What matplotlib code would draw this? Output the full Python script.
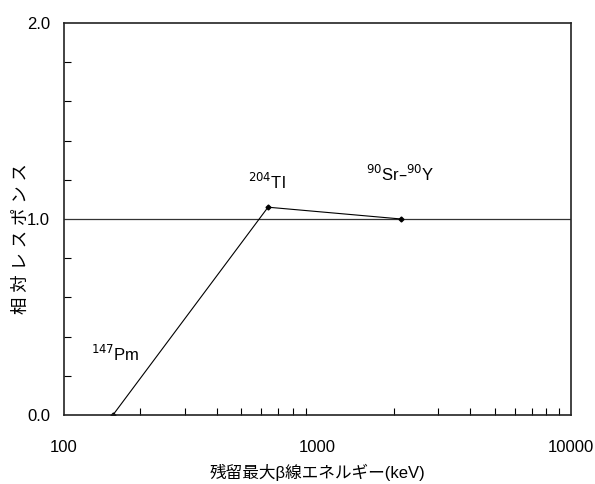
import matplotlib.pyplot as plt
from matplotlib.ticker import FixedLocator, NullFormatter, LogLocator

plt.rcParams['font.family'] = ['Liberation Sans', 'Noto Sans CJK JP', 'DejaVu Sans']

energy = [156, 638, 2130]          # keV
response = [0.0, 1.06, 1.0]
nuclides = ['$^{147}$Pm', '$^{204}$Tl', '$^{90}$Sr–$^{90}$Y']
label_pos = [(160, 0.26), (630, 1.14), (2130, 1.18)]

fig = plt.figure(figsize=(5.95, 4.84), dpi=100)
ax = fig.add_axes([0.1076, 0.1426, 0.852, 0.81])

ax.axhline(1.0, color='#333333', lw=0.9)
ax.plot(energy, response, color='black', lw=0.8, marker='D', ms=2.5)
for name, (x, y) in zip(nuclides, label_pos):
    ax.text(x, y, name, ha='center', va='bottom', fontsize=12)

ax.set_xscale('log')
ax.set_xlim(100, 10000)
ax.set_ylim(0, 2.0)
ax.set_xticks([100, 1000, 10000])
ax.set_xticklabels(['100', '1000', '10000'])
ax.xaxis.set_minor_locator(LogLocator(base=10, subs=range(2, 10)))
ax.xaxis.set_minor_formatter(NullFormatter())
ax.set_yticks([0.0, 1.0, 2.0])
ax.set_yticklabels(['0.0', '1.0', '2.0'])
ax.yaxis.set_minor_locator(FixedLocator([0.2, 0.4, 0.6, 0.8, 1.2, 1.4, 1.6, 1.8]))

ax.tick_params(axis='x', which='major', direction='in', length=0, pad=18, labelsize=12)
ax.tick_params(axis='x', which='minor', direction='in', length=5, width=0.8)
ax.tick_params(axis='y', which='major', direction='in', length=0, pad=10, labelsize=12)
ax.tick_params(axis='y', which='minor', direction='in', length=5, width=0.8)
for s in ax.spines.values():
    s.set_linewidth(1.2)
    s.set_color('#222222')

ax.set_xlabel('残留最大β線エネルギー(keV)', fontsize=12, labelpad=6)
ax.set_ylabel('相 対 レ ス ポ ン ス', fontsize=12.5)
ax.yaxis.set_label_coords(-0.07, 0.45)

fig.savefig('out.png', dpi=100)
